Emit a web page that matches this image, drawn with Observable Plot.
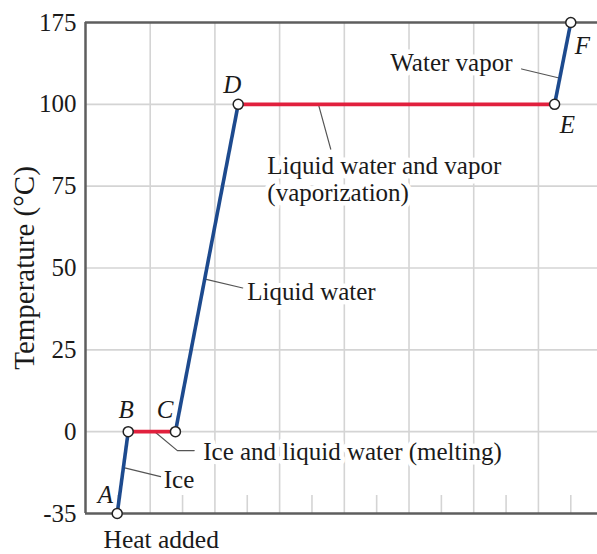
<!DOCTYPE html>
<html>
<head>
<meta charset="utf-8">
<script src="https://cdn.jsdelivr.net/npm/d3@7"></script>
<script src="https://cdn.jsdelivr.net/npm/@observablehq/plot@0.6"></script>
<style>
  html, body { margin: 0; padding: 0; background: #fff; }
  #chart { width: 597px; height: 554px; }
  #chart svg g[aria-label="y-axis tick label"] { font-size: 25px; }
</style>
</head>
<body>
<div id="chart"></div>
<script>
// ---- Data (heating curve of water) ----
const pointNames = ["A", "B", "C", "D", "E", "F"];
const heat = [0.49, 0.66, 1.39, 2.36, 7.25, 7.50];       // heat added (arbitrary units)
const temp = [-35, 0, 0, 100, 100, 175];                  // temperature (°C)
const segmentPhase = ["heat", "change", "heat", "change", "heat"];

const yTicks = [-35, 0, 25, 50, 75, 100, 175];
const gridTemps = [0, 25, 50, 75, 100];
const gridHeat = [1, 2, 3, 4, 5, 6, 7];
const minorHeat = [0.5, 1.5, 2.5, 3.5, 4.5, 5.5, 6.5, 7.5];

const labelText = ["Liquid water and vapor\n(vaporization)", "Liquid water", "Ice and liquid water (melting)", "Ice", "Water vapor"];
const labelX = [2.81, 2.50, 1.82, 1.21, 4.71];
const labelY = [70.4, 40.2, -12, -24.3, 130.6];

const letterX = [0.19, 0.51, 1.10, 2.13, 7.33, 7.56];
const letterY = [-30.3, 4.3, 4.3, 110.2, 91.2, 146.3];

const leaders = [
  [[0.59, -15.4], [1.16, -19.2]],
  [[1.07, 0], [1.42, -8.1], [1.68, -8.1]],
  [[1.85, 46.6], [2.43, 43.9]],
  [[3.60, 100], [3.79, 86.3]],
  [[6.74, 132.4], [7.32, 124.1]]
];

// ---- Derived tables ----
const points = pointNames.map((n, i) => ({name: n, x: heat[i], y: temp[i]}));
const segments = segmentPhase.map((p, i) => ({phase: p, x1: heat[i], y1: temp[i], x2: heat[i + 1], y2: temp[i + 1]}));
const labels = labelText.map((t, i) => ({text: t, x: labelX[i], y: labelY[i]}));
const letters = pointNames.map((n, i) => ({text: n, x: letterX[i], y: letterY[i]}));
const leaderPts = leaders.flatMap((pts, g) => pts.map(([x, y]) => ({g, x, y})));

const xMax = 7.913;
const phaseColor = {heat: "#1d4a8e", change: "#e1203d"};
const frameColor = "#5e5e5e";
const gridColor = "#d4d4d4";
const ink = "#1a1a1a";

const chart = Plot.plot({
  width: 597,
  height: 554,
  marginLeft: 85,
  marginRight: 0,
  marginTop: 22,
  marginBottom: 41,
  style: {fontFamily: "'Liberation Serif', serif", fontSize: "25px", color: ink, background: "#fff"},
  x: {domain: [0, xMax], axis: null},
  // piecewise scale: each tick step gets equal height (broken axis)
  y: {type: "linear", domain: yTicks, axis: null},
  marks: [
    // grid
    Plot.ruleX(gridHeat, {y1: -35, y2: 175, stroke: gridColor, strokeWidth: 1.6}),
    Plot.ruleY(gridTemps, {x1: 0, x2: xMax, stroke: gridColor, strokeWidth: 1.6}),
    Plot.ruleX(minorHeat, {y1: -35, y2: -27.3, stroke: gridColor, strokeWidth: 1.6}),
    // frame (left, top, bottom)
    Plot.ruleX([0], {y1: -35, y2: 175, stroke: frameColor, strokeWidth: 2.5}),
    Plot.ruleY([-35, 175], {x1: 0, x2: xMax, stroke: frameColor, strokeWidth: 2.5}),
    // y axis
    Plot.axisY(yTicks, {tickSize: 0, tickPadding: 9, tickFormat: d => String(d), label: null, fill: ink, fontSize: 25}),
    // annotation labels with white halo
    Plot.text(labels, {x: "x", y: "y", text: "text", textAnchor: "start", lineAnchor: "bottom", lineHeight: 1.08,
      fontSize: 25, fill: ink, stroke: "white", strokeWidth: 9}),
    // leader lines
    Plot.line(leaderPts, {x: "x", y: "y", z: "g", stroke: "#555", strokeWidth: 1.2}),
    // curve segments
    Plot.link(segments, {x1: "x1", y1: "y1", x2: "x2", y2: "y2", stroke: d => phaseColor[d.phase], strokeWidth: 3.6}),
    // points
    Plot.dot(points, {x: "x", y: "y", r: 5, fill: "white", stroke: "#222", strokeWidth: 1.5}),
    // point letters
    Plot.text(letters, {x: "x", y: "y", text: "text", textAnchor: "start", lineAnchor: "bottom",
      fontSize: 25, fontStyle: "italic", fill: ink}),
    // axis titles
    Plot.text(["Temperature (°C)"], {frameAnchor: "left", textAnchor: "middle", rotate: -90, dx: -61, fontSize: 29, fill: ink}),
    Plot.text(["Heat added"], {frameAnchor: "bottom-left", textAnchor: "start", lineAnchor: "bottom", dx: 18, dy: 34, fontSize: 25.5, fill: ink})
  ]
});
document.getElementById("chart").appendChild(chart);
</script>
</body>
</html>
